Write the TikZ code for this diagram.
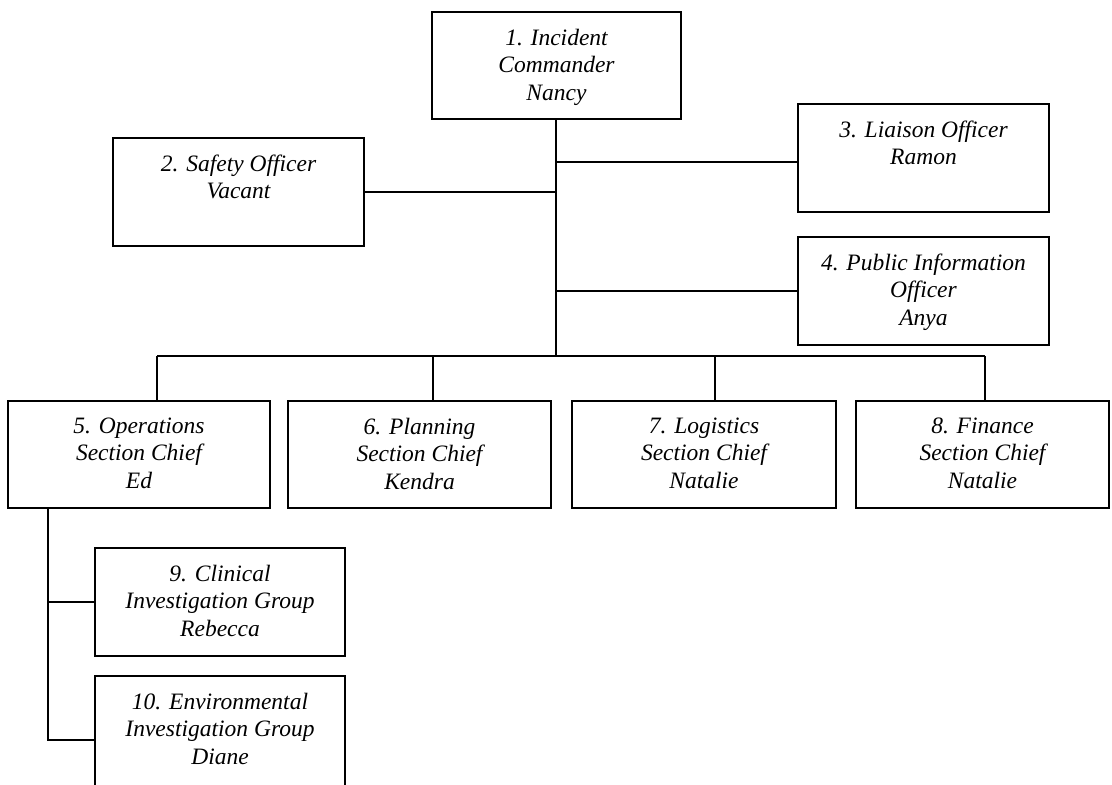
\documentclass[tikz,border=0pt]{standalone}
\usepackage{fontspec}
\setmainfont{Liberation Serif}
\tikzset{
  box/.style={draw, line width=1.6pt, rectangle, inner sep=0pt, outer sep=0pt},
  openbox/.style={draw=none, rectangle, inner sep=0pt, outer sep=0pt},
  lbl/.style={align=center, inner sep=0pt, font=\fontsize{23.5}{27.5}\selectfont\itshape},
  conn/.style={line width=1.6pt}
}
\newcommand{\orgbox}[7][box]{%
  \node[#1, minimum width={#4pt-#2pt}, minimum height={#5pt-#3pt}] (#6) at ({(#2+#4)/2},{(#3+#5)/2}) {};
  \node[lbl, anchor=north] (#6t) at ([yshift=-16.5pt]#6.north) {#7};
}
\begin{document}
\begin{tikzpicture}[x=1pt,y=-1pt]
\useasboundingbox (0,0) rectangle (1112,785);
\orgbox{432}{12}{681}{119}{b1}{1. Incident\\Commander\\Nancy}
\orgbox{113}{138}{364}{246}{b2}{2. Safety Officer\\Vacant}
\orgbox{798}{104}{1049}{212}{b3}{3. Liaison Officer\\Ramon}
\orgbox{798}{237}{1049}{345}{b4}{4. Public Information\\Officer\\Anya}
\orgbox{8}{401}{270}{508}{b5}{5. Operations\\Section Chief\\Ed}
\orgbox{288}{401}{551}{508}{b6}{6. Planning\\Section Chief\\Kendra}
\orgbox{572}{401}{836}{508}{b7}{7. Logistics\\Section Chief\\Natalie}
\orgbox{856}{401}{1109}{508}{b8}{8. Finance\\Section Chief\\Natalie}
\orgbox{95}{548}{345}{656}{b9}{9. Clinical\\Investigation Group\\Rebecca}
\orgbox[openbox]{95}{676}{345}{790}{b10}{10. Environmental\\Investigation Group\\Diane}
\draw[conn] (b10.south west) -- (b10.north west) -- (b10.north east) -- (b10.south east);
% trunk
\coordinate (j) at (556,356);
\draw[conn] (b1.south -| j) -- (j);
\draw[conn] (b2.east) -- (b2.east -| j);
\draw[conn] ([yshift=-4pt]b3.west) -- ([yshift=-4pt]b3.west -| j);
\draw[conn] (b4.west) -- (b4.west -| j);
% bus
\coordinate (d5) at (157,356);
\coordinate (d6) at (433,356);
\coordinate (d7) at (715,356);
\coordinate (d8) at (985,356);
\draw[conn] (d5) -- (d8);
\draw[conn] (d5) -- (d5 |- b5.north);
\draw[conn] (d6) -- (d6 |- b6.north);
\draw[conn] (d7) -- (d7 |- b7.north);
\draw[conn] (d8) -- (d8 |- b8.north);
% operations sub-branch
\coordinate (s) at (48,740);
\draw[conn] (s |- b5.south) -- (s) -- (s -| b10.west);
\draw[conn] (b9.west -| s) -- (b9.west);
\end{tikzpicture}
\end{document}
